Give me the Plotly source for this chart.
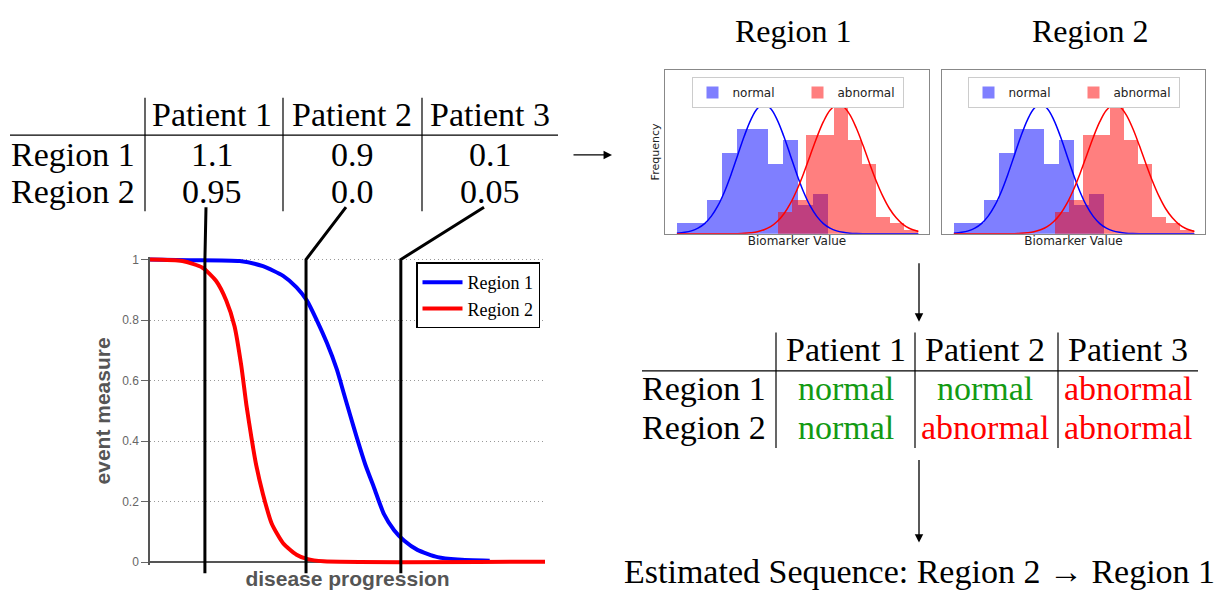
import plotly.graph_objects as go

W, H = 1215, 590

# event curves along disease progression (0-100)
region1_x = [0, 9.9, 22.7, 28.6, 33.7, 37.1, 39.7, 42.2, 44.8, 47.3, 49.0, 50.7, 52.4,
             54.5, 56.7, 59.2, 61.8, 64.3, 67.7, 72.8, 77.9, 86.0]
region1_y = [1.0, 0.998, 0.995, 0.978, 0.946, 0.908, 0.865, 0.80, 0.724, 0.637, 0.561, 0.485,
             0.41, 0.323, 0.247, 0.16, 0.106, 0.072, 0.041, 0.017, 0.009, 0.005]
region2_x = [0, 8.2, 13.3, 16.7, 19.3, 21.4, 23.1, 24.4, 25.7, 26.9, 28.6, 30.8, 33.7,
             37.1, 39.7, 43.9, 100]
region2_y = [1.0, 0.995, 0.973, 0.93, 0.865, 0.78, 0.65, 0.52, 0.41, 0.32, 0.225, 0.128,
             0.063, 0.025, 0.011, 0.003, 0.002]
patient_stage = [13.9, 39.5, 63.5]

# tables
patients = ['Patient 1', 'Patient 2', 'Patient 3']
regions = ['Region 1', 'Region 2']
region1_values = [1.1, 0.9, 0.1]
region2_values = [0.95, 0.0, 0.05]
region1_labels = ['normal', 'normal', 'abnormal']
region2_labels = ['normal', 'abnormal', 'abnormal']

# biomarker histograms (same for both regions)
normal_bins = [0.741, 1.313, 1.885, 2.457, 3.029, 3.601, 4.173, 4.745, 5.317, 5.889]
normal_heights = [0.106, 0.106, 0.346, 0.823, 1.066, 1.066, 0.706, 0.950, 0.293, 0.406]
abnormal_bins = [4.55, 5.08, 5.61, 6.14, 6.67, 7.20, 7.73, 8.26, 8.79, 9.32]
abnormal_heights = [0.223, 0.343, 1.006, 1.006, 1.313, 0.953, 0.706, 0.173, 0.106, 0.040]
fit_x = [0.45, 0.75, 1.0, 1.25, 1.5, 1.75, 2.0, 2.25, 2.5, 2.75, 3.0, 3.25, 3.5, 3.75, 4.0,
         4.25, 4.5, 4.75, 5.0, 5.25, 5.5, 5.75, 6.0, 6.25, 6.5, 6.75, 7.0, 7.25, 7.5, 7.75,
         8.0, 8.25, 8.5, 8.75, 9.0, 9.25, 9.6]
normal_fit = [0.006, 0.015, 0.030, 0.058, 0.104, 0.177, 0.283, 0.425, 0.600, 0.795, 0.989,
              1.156, 1.270, 1.310, 1.270, 1.156, 0.989, 0.795, 0.600, 0.425, 0.283, 0.177,
              0.104, 0.058, 0.030, 0.015, 0.007, 0.003, 0.001, 0, 0, 0, 0, 0, 0, 0, 0]
abnormal_fit = [0, 0, 0, 0, 0, 0, 0, 0, 0.001, 0.002, 0.005, 0.011, 0.021, 0.041, 0.073,
                0.125, 0.201, 0.308, 0.447, 0.612, 0.795, 0.977, 1.137, 1.253, 1.307, 1.292,
                1.208, 1.070, 0.898, 0.713, 0.536, 0.382, 0.257, 0.165, 0.099, 0.057, 0.024]
bin_width_normal = 0.572
bin_width_abnormal = 0.530

label_colors = {'normal': '#139a13', 'abnormal': '#ff0000'}
SERIF = 'Liberation Serif'
SANS = 'DejaVu Sans'


def px(x):
    return x / W


def py(y):
    return 1 - y / H


fig = go.Figure()

# event curves
fig.add_trace(go.Scatter(x=region1_x, y=region1_y, mode='lines', name='Region 1',
                         line=dict(color='#0000ff', width=4, shape='spline', smoothing=0.6),
                         legendgroup='r1', xaxis='x', yaxis='y'))
fig.add_trace(go.Scatter(x=region2_x, y=region2_y, mode='lines', name='Region 2',
                         line=dict(color='#ff0000', width=4, shape='spline', smoothing=0.6),
                         legendgroup='r2', xaxis='x', yaxis='y'))

# histograms
for xa, ya, leg in [('x2', 'y2', 'legend2'), ('x3', 'y3', 'legend3')]:
    fig.add_trace(go.Bar(x=normal_bins, y=normal_heights, width=bin_width_normal, name='normal',
                         marker=dict(color='rgba(0,0,255,0.5)', line=dict(width=0)),
                         xaxis=xa, yaxis=ya, legend=leg))
    fig.add_trace(go.Bar(x=abnormal_bins, y=abnormal_heights, width=bin_width_abnormal,
                         name='abnormal',
                         marker=dict(color='rgba(255,0,0,0.5)', line=dict(width=0)),
                         xaxis=xa, yaxis=ya, legend=leg))
    fig.add_trace(go.Scatter(x=fit_x, y=normal_fit, mode='lines', showlegend=False,
                             line=dict(color='#0000ff', width=1.5, shape='spline'),
                             xaxis=xa, yaxis=ya))
    fig.add_trace(go.Scatter(x=fit_x, y=abnormal_fit, mode='lines', showlegend=False,
                             line=dict(color='#ff0000', width=1.5, shape='spline'),
                             xaxis=xa, yaxis=ya))

hist_x = dict(range=[0, 10], showticklabels=False, ticks='', showgrid=False, zeroline=False,
              showline=True, mirror=True, linecolor='#888', linewidth=1,
              title=dict(text='Biomarker Value', font=dict(family=SANS, size=12, color='#222'),
                         standoff=2))
hist_y = dict(range=[0, 1.66], showticklabels=False, ticks='', showgrid=False, zeroline=False,
              showline=True, mirror=True, linecolor='#888', linewidth=1)
hist_legend = dict(y=py(74), xanchor='center', yanchor='top', orientation='h',
                   bgcolor='white', bordercolor='#ccc', borderwidth=1, entrywidth=60,
                   font=dict(family=SANS, size=12, color='#222'))
axis_title_font = dict(family='Liberation Sans', size=21, color='#555', weight='bold')

fig.update_layout(
    width=W, height=H, margin=dict(l=0, r=0, t=0, b=0),
    paper_bgcolor='white', plot_bgcolor='white',
    barmode='overlay', bargap=0,
    xaxis=dict(domain=[px(150), px(545)], range=[0, 100], showticklabels=False, ticks='',
               showgrid=False, zeroline=False, showline=False,
               title=dict(text='disease progression', standoff=10, font=axis_title_font)),
    yaxis=dict(domain=[py(569), py(256)], range=[-0.01, 1.01], tickvals=[0, 0.2, 0.4, 0.6, 0.8, 1],
               ticktext=['0', '0.2', '0.4', '0.6', '0.8', '1'], ticks='outside', ticklen=7,
               tickcolor='#666', tickfont=dict(family='Liberation Sans', size=12, color='#666'),
               showgrid=True, gridcolor='#999', griddash='1px,3px', gridwidth=1,
               zeroline=True, zerolinecolor='#555', zerolinewidth=1.5,
               showline=True, linecolor='#555', linewidth=1.5,
               title=dict(text='event measure', standoff=6, font=axis_title_font)),
    xaxis2=dict(hist_x, domain=[px(665), px(929)], anchor='y2'),
    yaxis2=dict(hist_y, domain=[py(233), py(67)], anchor='x2',
                title=dict(text='Frequency', font=dict(family=SANS, size=11, color='#222'),
                           standoff=2)),
    xaxis3=dict(hist_x, domain=[px(942), px(1205)], anchor='y3'),
    yaxis3=dict(hist_y, domain=[py(233), py(67)], anchor='x3'),
    legend=dict(x=px(416), y=py(262), xanchor='left', yanchor='top', bgcolor='white',
                bordercolor='black', borderwidth=1.5, tracegroupgap=0, itemwidth=40,
                font=dict(family=SERIF, size=18, color='black')),
    legend2=dict(hist_legend, x=px(797.5)),
    legend3=dict(hist_legend, x=px(1073.5)),
)

shapes = []
ann = []


def hline(x0, x1, y):
    shapes.append(dict(type='line', xref='paper', yref='paper', x0=px(x0), x1=px(x1),
                       y0=py(y), y1=py(y), line=dict(color='black', width=1.2)))


def vline(x, y0, y1):
    shapes.append(dict(type='line', xref='paper', yref='paper', x0=px(x), x1=px(x),
                       y0=py(y0), y1=py(y1), line=dict(color='black', width=1.2)))


def text(s, x, y, size=34, color='black', anchor='center'):
    ann.append(dict(text=s, x=px(x), y=py(y), xref='paper', yref='paper', showarrow=False,
                    xanchor=anchor, yanchor='middle',
                    font=dict(family=SERIF, size=size, color=color)))


# value table
cols1 = [212, 352, 490]
rows1 = [153, 190]
hline(10, 558, 133)
for xs in [145, 283, 422]:
    vline(xs, 95, 210)
for c, p in zip(cols1, patients):
    text(p, c, 112)
for r, reg, vals in zip(rows1, regions, [region1_values, region2_values]):
    text(reg, 137, r, anchor='right')
    for c, v in zip(cols1, vals):
        text(str(v), c, r)

# classification table
cols2 = [846, 985, 1128]
rows2 = [390, 429]
hline(642, 1198, 372)
for xs in [776, 915, 1058]:
    vline(xs, 333, 450)
for c, p in zip(cols2, patients):
    text(p, c, 350)
for r, reg, labs in zip(rows2, regions, [region1_labels, region2_labels]):
    text(reg, 768, r, anchor='right')
    for c, lab in zip(cols2, labs):
        text(lab, c, r, color=label_colors[lab])

text('Region 1', 793, 27, size=32)
text('Region 2', 1090, 27, size=32)
text('Estimated Sequence: Region 2 \u2192 Region 1', 919, 575, size=34)

# arrows
for hx, hy, ax, ay in [(612, 153, -40, 0), (919, 322, 0, -60), (919, 546, 0, -84)]:
    ann.append(dict(x=px(hx), y=py(hy), xref='paper', yref='paper', ax=ax, ay=ay, text='',
                    showarrow=True, arrowhead=2, arrowsize=1.3, arrowwidth=1.3,
                    arrowcolor='black'))


# connectors from patient stage to value table
def curve_x(p):
    return (p - 150) / 395 * 100


for stage, col in zip(patient_stage, cols1):
    top = curve_x(col - 6)
    shapes.append(dict(type='path', xref='x', yref='paper',
                       path=f'M {stage},{py(577)} L {stage},{py(259)} L {top},{py(206)}',
                       line=dict(color='black', width=3)))

fig.update_layout(shapes=shapes, annotations=ann)
fig.write_html('out.html', config={'displayModeBar': False},
               post_script="document.body.style.margin='0';document.body.style.overflow='hidden';")
